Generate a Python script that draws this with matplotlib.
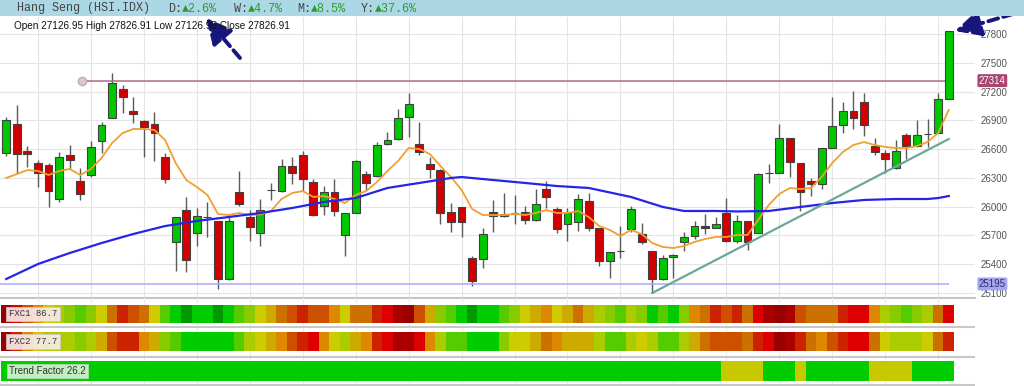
import numpy as np
import matplotlib
matplotlib.use('Agg')
import matplotlib.pyplot as plt
import matplotlib.transforms as mtransforms
from matplotlib.patches import Rectangle

# daily OHLC, Hang Seng (HSI.IDX), 90 sessions
opens = [26560, 26860, 26580, 26455, 26435, 26080, 26540, 26270, 26330, 26680,
         26925, 27225, 27000, 26895, 26860, 26520, 25630, 25965, 25725, 25890,
         25850, 25245, 26150, 25890, 25725, 26174, 26165, 26425, 26540, 26260,
         26010, 26155, 25705, 25935, 26340, 26320, 26650, 26705, 26935, 26655,
         26445, 26380, 25945, 25995, 25465, 25455, 25945, 25905, 25935, 25945,
         25860, 26185, 25975, 25820, 25840, 26060, 25775, 25435, 25540, 25765,
         25715, 25540, 25245, 25475, 25630, 25695, 25800, 25780, 25935, 25640,
         25850, 25725, 26350, 26350, 26715, 26455, 26270, 26235, 26610, 26850,
         26995, 27090, 26630, 26560, 26405, 26745, 26630, 26760, 26770, 27126.95]
highs = [26935, 27060, 26630, 26490, 26460, 26570, 26640, 26400, 26685, 26885,
         27395, 27270, 27145, 26905, 26985, 26560, 25895, 26100, 25985, 26050,
         25855, 25890, 26370, 25965, 26080, 26245, 26497, 26520, 26580, 26290,
         26215, 26290, 25935, 26490, 26370, 26675, 26780, 27020, 27185, 26885,
         26520, 26390, 26040, 25995, 25485, 25780, 26070, 26140, 26120, 26005,
         26185, 26270, 25995, 25985, 26130, 26145, 25775, 25525, 25800, 26005,
         25830, 25540, 25495, 25505, 25735, 25855, 25925, 25890, 26090, 25910,
         25850, 26350, 26445, 26860, 26715, 26455, 26300, 26610, 27145, 27090,
         27205, 27185, 26715, 26590, 26695, 26770, 26905, 26915, 27185, 27826.91]
lows = [26530, 26340, 26410, 26210, 26000, 26050, 26390, 26070, 26310, 26560,
        26920, 26975, 26870, 26520, 26475, 26245, 25330, 25320, 25590, 25685,
        25140, 25240, 26010, 25640, 25590, 26065, 26155, 26235, 26165, 25900,
        25910, 25900, 25485, 25935, 26175, 26310, 26640, 26695, 26725, 26540,
        26300, 25820, 25735, 25685, 25175, 25360, 25735, 25890, 25820, 25820,
        25850, 25985, 25725, 25640, 25745, 25745, 25380, 25255, 25465, 25735,
        25610, 25100, 25235, 25255, 25540, 25665, 25715, 25780, 25630, 25620,
        25550, 25725, 26245, 26350, 26310, 25955, 26110, 26185, 26610, 26770,
        26810, 26740, 26540, 26350, 26395, 26495, 26620, 26620, 26770, 27126.95]
closes = [26900, 26550, 26550, 26350, 26165, 26520, 26490, 26130, 26620, 26850,
          27290, 27145, 26965, 26830, 26765, 26290, 25890, 25445, 25900, 25890,
          25245, 25850, 26030, 25790, 25965, 26174, 26425, 26350, 26290, 25910,
          26155, 25955, 25935, 26475, 26250, 26640, 26695, 26925, 27070, 26570,
          26395, 25935, 25840, 25840, 25225, 25715, 25905, 25925, 25935, 25860,
          26030, 26100, 25765, 25935, 26080, 25775, 25435, 25525, 25540, 25975,
          25630, 25245, 25465, 25495, 25685, 25800, 25780, 25820, 25640, 25850,
          25630, 26340, 26350, 26715, 26465, 26150, 26235, 26610, 26840, 26995,
          26925, 26850, 26570, 26495, 26580, 26630, 26745, 26760, 27125, 27826.91]

# fast average (orange), one value per session
fast_ma = [26299, 26340, 26382, 26372, 26330, 26372, 26393, 26330, 26393, 26507,
           26664, 26768, 26810, 26810, 26799, 26695, 26455, 26278, 26205, 26122,
           25924, 25913, 25934, 25913, 25920, 25955, 26080, 26142, 26163, 26101,
           26111, 26080, 26038, 26122, 26163, 26257, 26372, 26476, 26612, 26601,
           26549, 26424, 26309, 26174, 25976, 25913, 25913, 25913, 25924, 25913,
           25934, 25965, 25934, 25934, 25955, 25892, 25798, 25757, 25694, 25757,
           25715, 25621, 25580, 25569, 25590, 25632, 25663, 25684, 25684, 25705,
           25705, 25861, 26017, 26132, 26195, 26184, 26195, 26309, 26455, 26570,
           26643, 26674, 26643, 26622, 26612, 26612, 26632, 26674, 26768, 27008]

# slow average (blue), read at selected sessions
slow_idx = [0, 3, 6, 9, 12, 15, 18, 21, 24, 27, 30, 33, 36, 39, 42, 43, 45, 49,
            52, 55, 59, 62, 64, 67, 69, 72, 75, 78, 81, 84, 87, 88, 89]
slow_ma = [25246, 25402, 25517, 25621, 25715, 25798, 25851, 25892, 25934, 25986,
           26049, 26090, 26195, 26247, 26299, 26309, 26288, 26247, 26215, 26195,
           26101, 25997, 25955, 25955, 25950, 25955, 25997, 26038, 26070, 26080,
           26080, 26090, 26111]

trend_idx = [61, 89]
trend_val = [25100, 26705]
resistance = 27314
support = 25195
yticks = [25100, 25400, 25700, 26000, 26300, 26600, 26900, 27200, 27500, 27800]

# heat strips: 0 = dark green ... 13 = dark red
heat_colors = ['#009900', '#00cc00', '#55cc00', '#88cc00', '#aacc00', '#cccc00', '#ccaa00',
               '#dd8800', '#cc7000', '#cc5000', '#cc2200', '#dd0000', '#aa0000', '#990000']
fxc1 = [13, 11, 9, 7, 5, 4, 3, 2, 3, 5, 8, 10, 9, 8, 5, 2, 1, 0, 1, 1, 0, 1, 2, 3, 5, 6, 8, 9, 10, 9, 9,
        7, 5, 8, 8, 10, 11, 12, 13, 9, 6, 3, 2, 1, 0, 1, 1, 2, 3, 5, 6, 7, 5, 6, 8, 6, 4, 3, 2, 4, 3,
        1, 2, 1, 3, 7, 8, 10, 9, 10, 8, 11, 12, 13, 12, 9, 8, 8, 8, 10, 11, 11, 7, 4, 3, 2, 3, 4, 8, 11]
fxc2 = [13, 10, 7, 5, 4, 4, 4, 3, 4, 6, 9, 10, 10, 7, 6, 3, 2, 1, 1, 1, 1, 1, 2, 4, 5, 6, 7, 9, 10, 11, 7,
        5, 4, 6, 7, 10, 11, 12, 12, 11, 7, 4, 2, 2, 1, 1, 1, 3, 5, 5, 6, 8, 7, 6, 6, 6, 4, 2, 2, 4, 5,
        4, 2, 2, 4, 6, 8, 9, 9, 9, 8, 10, 11, 13, 12, 10, 8, 7, 9, 10, 11, 11, 8, 5, 4, 4, 4, 5, 8, 10]
trend_runs = [(1, 68), (0, 4), (1, 3), (0, 1), (1, 6), (0, 4), (1, 4)]  # 1 = up (green), 0 = neutral

W, H = 1024, 386
fig = plt.figure(figsize=(W / 100, H / 100), dpi=100)


def fx(px):
    return px / W


def fy(py):
    return 1 - py / H


x = np.arange(len(opens))
o = np.array(opens)
c = np.array(closes)
XL = (-0.585, 91.48)

# main price panel
ax = fig.add_axes([0, fy(298), fx(975), (298 - 17) / H])
ax.set_xlim(*XL)
ax.set_ylim(25048, 27977)
for gx in range(3, 90, 5):
    ax.axvline(gx, color='#e4e4e4', lw=0.8, zorder=0)
ax.set_yticks(yticks)
ax.grid(axis='y', color='#e4e4e4', lw=0.8)
ax.set_axisbelow(True)
ax.set_xticks([])
ax.yaxis.tick_right()
ax.tick_params(axis='y', length=0, pad=4, labelsize=7, labelcolor='#555555')
for t in ax.get_yticklabels():
    t.set_fontfamily('Liberation Sans')
for s in ['top', 'left', 'right']:
    ax.spines[s].set_visible(False)
ax.spines['bottom'].set_color('#c4c4c4')
ax.spines['bottom'].set_linewidth(1.5)

body_col = ['#333333' if oo == cc else ('#00c800' if cc > oo else '#d40000') for oo, cc in zip(opens, closes)]
ax.vlines(x, lows, highs, color='#5a5a5a', lw=1, zorder=2)
ax.bar(x, np.abs(c - o), bottom=np.minimum(o, c), width=0.74, color=body_col,
       edgecolor='#404040', lw=0.8, zorder=3)

ax.hlines(resistance, 7.2, 89, color='#b06a88', lw=1.1, zorder=2)
ax.plot(7.2, resistance, 'o', ms=6, mfc='#dcc6d0', mec='#c8a8b8', zorder=3)
ax.hlines(support, XL[0], 89, color='#a8a8ff', lw=1.1, zorder=2)

ax.plot(x, fast_ma, color='#f0a030', lw=1.3, zorder=4)
ax.plot(slow_idx, slow_ma, color='#2525e8', lw=1.6, zorder=4)
ax.plot(trend_idx, trend_val, color='#6aa898', lw=1.6, zorder=4)

tr = mtransforms.blended_transform_factory(ax.transAxes, ax.transData)
ax.text(1.004, resistance, str(resistance), transform=tr, ha='left', va='center', fontsize=7,
        family='Liberation Sans', color='white',
        bbox=dict(boxstyle='round,pad=0.15', fc='#a8446e', ec='none'))
ax.text(1.004, support, str(support), transform=tr, ha='left', va='center', fontsize=7,
        family='Liberation Sans', color='#333366',
        bbox=dict(boxstyle='round,pad=0.15', fc='#a4a4f4', ec='none'))

# title bar
fig.patches.append(Rectangle((0, fy(16)), 1, 16 / H, transform=fig.transFigure,
                             fc='#acd8e6', ec='none', zorder=0))
mono = ['Liberation Mono', 'DejaVu Sans Mono']
fig.text(fx(17), fy(8.5), 'Hang Seng (HSI.IDX)', family=mono, fontsize=8.5, color='#444444', va='center')
for px, lab, val in [(168, 'D:', '▲2.6%'), (234, 'W:', '▲4.7%'), (297, 'M:', '▲8.5%'), (361, 'Y:', '▲37.6%')]:
    fig.text(fx(px), fy(8.5), lab, family=mono, fontsize=8.5, color='#444444', va='center')
    fig.text(fx(px + 14), fy(8.5), val, family=mono, fontsize=8.5, color='#2e9a2e', va='center')
fig.text(fx(14), fy(26), 'Open 27126.95 High 27826.91 Low 27126.95 Close 27826.91',
         family='Liberation Sans', fontsize=7.2, color='#111111', va='center')

# indicator strips
sax = fig.add_axes([0, 0, fx(975), 88 / H])
sax.set_xlim(*XL)
sax.set_ylim(386, 298)
sax.axis('off')
for gx in range(3, 90, 5):
    sax.axvline(gx, color='#ececec', lw=0.8, zorder=0)
for yy in [327, 357, 385]:
    sax.axhline(yy, color='#c8c8c8', lw=1.5, zorder=1)
trend = []
for v, n in trend_runs:
    trend += [v] * n
sax.bar(x, 18, bottom=305, width=1.0, color=[heat_colors[v] for v in fxc1], lw=0, zorder=2)
sax.bar(x, 19, bottom=332, width=1.0, color=[heat_colors[v] for v in fxc2], lw=0, zorder=2)
sax.bar(x, 20, bottom=361, width=1.0, color=['#00cc00' if v else '#c8c800' for v in trend], lw=0, zorder=2)

lab_box = dict(boxstyle='square,pad=0.3', fc='#f8ecec', ec='#d8c8c8', lw=0.6, alpha=0.9)
fig.text(fx(9), fy(314), 'FXC1 86.7', family=mono, fontsize=6.5, color='#333333', va='center', bbox=lab_box)
fig.text(fx(9), fy(341.5), 'FXC2 77.7', family=mono, fontsize=6.5, color='#333333', va='center', bbox=lab_box)
fig.text(fx(9), fy(371), 'Trend Factor 26.2', family='Liberation Sans', fontsize=7, color='#333333', va='center',
         bbox=dict(boxstyle='square,pad=0.25', fc='#d8f4d8', ec='#b8d8b8', lw=0.6, alpha=0.9))

# annotation arrows
for tail, tip in [((240, 58), (206, 18)), ((1013, 14), (955, 31))]:
    ax.annotate('', xy=(tip[0], H - tip[1]), xytext=(tail[0], H - tail[1]),
                xycoords='figure pixels', textcoords='figure pixels',
                arrowprops=dict(arrowstyle='-|>,head_length=1.1,head_width=0.55', mutation_scale=14,
                                color='#16167c', lw=2.8, ls=(0, (2.6, 1.4)), shrinkA=0, shrinkB=0))

fig.savefig('out.png', dpi=100)
